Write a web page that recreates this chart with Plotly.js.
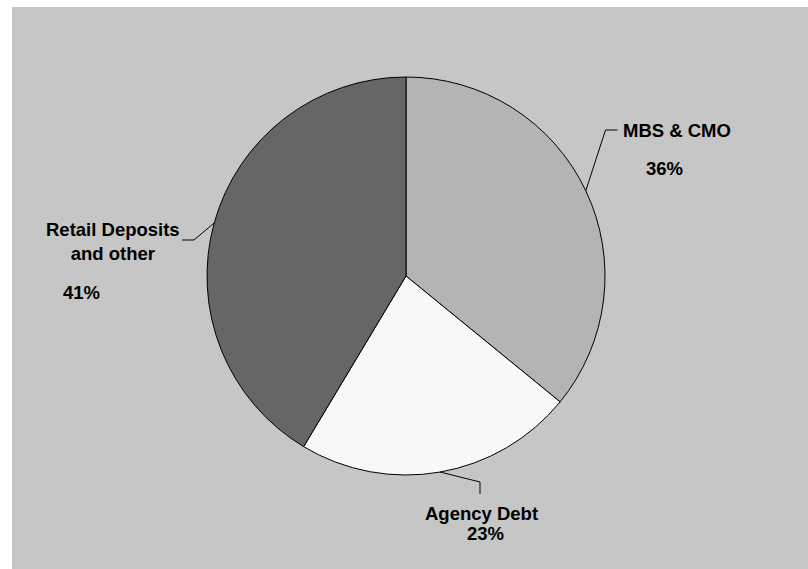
<!DOCTYPE html>
<html>
<head>
<meta charset="utf-8">
<script src="https://cdn.plot.ly/plotly-3.0.1.min.js"></script>
<style>
  html, body { margin: 0; padding: 0; background: #ffffff; }
  #chart { position: absolute; left: 12px; top: 7px; width: 796px; height: 562px; }
</style>
</head>
<body>
<div id="chart"></div>
<script>
// ---- data ----
const categories = ["MBS & CMO", "Agency Debt", "Retail Deposits<br>and other"];
const values = [35.9, 22.7, 41.4];
const sliceColors = ["#b4b4b4", "#f8f8f8", "#666666"];

// ---- geometry (page pixels) ----
const W = 796, H = 562, OX = 12, OY = 7;
const CX = 406, CY = 276, R = 199;
const px = x => (x - OX) / W;
const py = y => 1 - (y - OY) / H;

const total = values.reduce((a, b) => a + b, 0);
const pctLabels = values.map(v => Math.round(v / total * 100) + "%");

// anchor point of each slice on the rim, from the data
let cum = 0;
const anchors = values.map(v => {
  const mid = (cum + v / 2) / total * 2 * Math.PI;
  cum += v;
  return [CX + R * Math.sin(mid), CY - R * Math.cos(mid)];
});

const font = { family: "Liberation Sans, Arial, sans-serif", size: 18.5, color: "#000000" };

const trace = {
  type: "pie",
  labels: categories,
  values: values,
  sort: false,
  direction: "clockwise",
  rotation: 0,
  textinfo: "none",
  hoverinfo: "none",
  marker: { colors: sliceColors, line: { color: "#000000", width: 1 } },
  domain: { x: [px(CX - R), px(CX + R)], y: [py(CY + R), py(CY - R)] },
  showlegend: false
};

function pathOf(pts) {
  return pts.map((p, i) => (i ? "L " : "M ") + px(p[0]) + " " + py(p[1])).join(" ");
}

const shapes = [
  { type: "path", xref: "paper", yref: "paper",
    path: pathOf([anchors[0], [605.5, 130], [617.5, 130]]),
    line: { color: "#000", width: 1 } },
  { type: "path", xref: "paper", yref: "paper",
    path: pathOf([anchors[1], [480, 482], [480, 494]]),
    line: { color: "#000", width: 1 } },
  { type: "path", xref: "paper", yref: "paper",
    path: pathOf([anchors[2], [194, 240], [182, 240]]),
    line: { color: "#000", width: 1 } }
];

function ann(text, x, y, xanchor) {
  return { text: "<b>" + text + "</b>", xref: "paper", yref: "paper",
           x: px(x), y: py(y), xanchor: xanchor || "center", yanchor: "middle",
           showarrow: false, font: font, align: "center" };
}

const annotations = [
  ann(categories[0], 621, 131, "left"),
  ann(pctLabels[0], 664.5, 168),
  ann(categories[1], 481, 513),
  ann(pctLabels[1], 485, 533),
  ann(categories[2], 112.5, 241.5),
  ann(pctLabels[2], 81, 292.5)
];

const layout = {
  width: W, height: H,
  margin: { l: 0, r: 0, t: 0, b: 0 },
  paper_bgcolor: "#c6c6c6",
  plot_bgcolor: "#c6c6c6",
  font: font,
  shapes: shapes,
  annotations: annotations,
  showlegend: false
};

Plotly.newPlot("chart", [trace], layout, { displayModeBar: false, staticPlot: true });
</script>
</body>
</html>
